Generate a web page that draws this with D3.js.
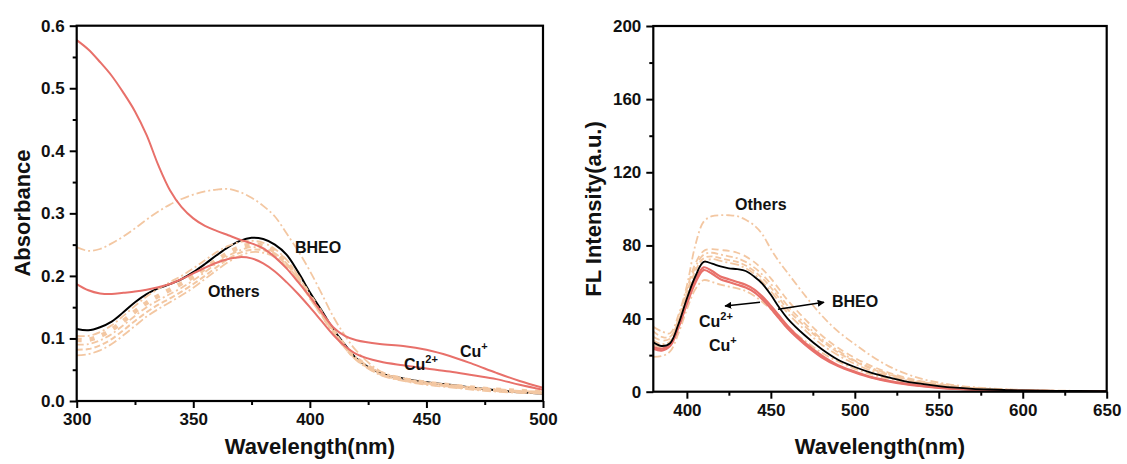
<!DOCTYPE html>
<html>
<head>
<meta charset="utf-8">
<script src="https://cdn.jsdelivr.net/npm/d3@7"></script>
<style>
  html, body { margin: 0; padding: 0; background: #fff; }
  svg { display: block; font-family: "Liberation Sans", Arial, sans-serif; }
  .tick text { font-weight: bold; font-size: 17px; fill: #111; }
  .title { font-weight: bold; font-size: 22px; fill: #111; }
  .note { font-weight: bold; font-size: 16px; fill: #111; }
</style>
</head>
<body>
<svg id="chart" width="1127" height="464"></svg>
<script>
// ---------- UV-vis absorbance (left panel) ----------
const absWavelength = [300,305,310,315,320,325,330,335,340,345,350,355,360,365,370,375,380,385,390,395,400,405,410,415,420,430,440,450,460,470,480,490,500];
const absBHEO = [0.115,0.113,0.118,0.127,0.142,0.158,0.171,0.180,0.187,0.195,0.206,0.219,0.233,0.246,0.256,0.261,0.259,0.250,0.234,0.206,0.174,0.145,0.115,0.090,0.068,0.045,0.036,0.030,0.026,0.021,0.017,0.014,0.012];
const absCuI = [0.577,0.562,0.542,0.520,0.493,0.463,0.425,0.377,0.337,0.310,0.292,0.280,0.272,0.265,0.258,0.252,0.244,0.230,0.212,0.190,0.167,0.142,0.118,0.104,0.097,0.091,0.088,0.082,0.072,0.059,0.045,0.032,0.021];
const absCuII = [0.187,0.177,0.172,0.171,0.173,0.175,0.178,0.182,0.187,0.195,0.204,0.213,0.221,0.227,0.230,0.228,0.220,0.207,0.190,0.171,0.150,0.128,0.106,0.088,0.075,0.063,0.057,0.052,0.047,0.041,0.035,0.026,0.018];
const absOthers = [
  [0.246,0.240,0.243,0.252,0.263,0.276,0.290,0.303,0.314,0.323,0.330,0.335,0.338,0.339,0.334,0.325,0.312,0.295,0.268,0.240,0.208,0.172,0.135,0.105,0.080,0.048,0.036,0.029,0.025,0.021,0.018,0.016,0.015],
  [0.104,0.104,0.110,0.121,0.136,0.152,0.167,0.179,0.190,0.200,0.212,0.225,0.238,0.248,0.254,0.256,0.253,0.243,0.226,0.200,0.170,0.141,0.113,0.089,0.069,0.046,0.036,0.030,0.026,0.022,0.019,0.016,0.014],
  [0.098,0.098,0.104,0.114,0.128,0.143,0.157,0.168,0.178,0.188,0.199,0.212,0.225,0.237,0.246,0.250,0.248,0.239,0.222,0.197,0.168,0.140,0.112,0.088,0.068,0.045,0.035,0.029,0.025,0.021,0.018,0.016,0.014],
  [0.090,0.091,0.097,0.107,0.121,0.136,0.150,0.161,0.171,0.181,0.193,0.206,0.220,0.232,0.241,0.246,0.244,0.236,0.220,0.196,0.167,0.139,0.111,0.087,0.067,0.044,0.034,0.028,0.024,0.020,0.017,0.015,0.013],
  [0.082,0.083,0.089,0.099,0.113,0.128,0.142,0.154,0.164,0.175,0.187,0.200,0.214,0.227,0.237,0.242,0.241,0.233,0.218,0.194,0.166,0.138,0.110,0.086,0.066,0.043,0.033,0.027,0.023,0.019,0.016,0.014,0.012],
  [0.073,0.075,0.081,0.091,0.105,0.120,0.135,0.147,0.158,0.169,0.181,0.195,0.209,0.222,0.232,0.238,0.237,0.230,0.215,0.192,0.164,0.137,0.109,0.085,0.065,0.042,0.032,0.026,0.022,0.018,0.015,0.013,0.012]
];
const absXTicks = [300,350,400,450,500];
const absYTicks = [0.0,0.1,0.2,0.3,0.4,0.5,0.6];

// ---------- Fluorescence emission (right panel) ----------
const flWavelength = [380,385,390,395,400,405,410,415,420,425,430,435,440,445,450,455,460,470,480,490,500,510,520,530,540,550,560,570,580,590,600,620,650];
const flBHEO = [27,25,26.5,37,51,63,71,70,68.5,67.5,67,66,63,59,53,46,40,31,23.5,17.5,13.5,10.3,7.8,5.7,4.3,3.1,2.2,1.6,1.2,0.9,0.7,0.5,0.3];
const flCuII = [24.5,23.5,26,36,49,61,68,66,63,61.5,60,58.5,56,52,47,41.5,36,27,20,14.5,11,8,6,4.4,3.2,2.3,1.6,1.1,0.8,0.6,0.4,0.3,0.2];
const flCuI = [23.5,22.5,25,35,48,59.5,66.5,64.5,61.5,60,58.5,57,54.5,50.5,45.5,40,34.5,26,19,14,10.5,7.6,5.6,4.1,3,2.1,1.5,1,0.7,0.5,0.4,0.3,0.2];
const flOthers = [
  [35.5,33,32,42,58,80,93,96,96.5,96.5,96,94,91,86,78,71,65,53,42,33,26,19.5,14,10,7,5,3.5,2.5,1.8,1.3,1,0.6,0.3],
  [30,28,29,40,56,70,77,78,77.5,77,76,74,71,67,62,56,50,40,31,24,18.5,14,10.5,7.8,5.7,4.2,3,2.2,1.6,1.2,0.9,0.5,0.3],
  [28,26,27.5,38,54,68,75,76,75,74,73,71,68,64,59,53,47,37.5,29,22.5,17,13,9.8,7.2,5.3,3.9,2.8,2,1.5,1.1,0.8,0.5,0.3],
  [33,30,30,39,53,66,73,74,73,72,71,69,66,62,57,51,45,36,28,21.5,16.5,12.5,9.4,6.9,5.1,3.7,2.7,1.9,1.4,1,0.8,0.5,0.3],
  [26,24,25.5,36,50,63,71,72.5,71.5,70.5,69.5,67.5,64.5,60,55,49,43,34,26,20,15.2,11.5,8.7,6.4,4.7,3.4,2.5,1.8,1.3,0.9,0.7,0.4,0.2],
  [19,19.5,22,32,45,56,61,60,58.5,57.5,56.5,55,52.5,49,45,40,35.5,28,21.5,16.5,12.5,9.5,7.2,5.3,3.9,2.8,2,1.5,1.1,0.8,0.6,0.4,0.2]
];
const flXTicks = [400,450,500,550,600,650];
const flYTicks = [0,40,80,120,160,200];

// ---------- styling ----------
const RED = "#E8706A";
const PEACH = "#F3C7A2";
const absDash = ["9,3,2,3", "8,3,2,3", "5,8", "7,3,2,3", "6,3", "9,3,2,3"];
const absWidth = [1.8, 1.8, 4.5, 1.8, 2, 1.8];
const flDash = ["8,3,2,3", "7,4", "7,3,2,3", "6,3", "9,3,2,3", "8,3,2,3"];

const svg = d3.select("#chart");
const defs = svg.append("defs");

function panel(opt) {
  const x = d3.scaleLinear().domain(opt.xDomain).range(opt.xRange);
  const y = d3.scaleLinear().domain(opt.yDomain).range(opt.yRange);
  const g = svg.append("g");
  const clipId = opt.id + "-clip";
  defs.append("clipPath").attr("id", clipId)
    .append("rect")
    .attr("x", opt.xRange[0]).attr("y", opt.yRange[1])
    .attr("width", opt.xRange[1] - opt.xRange[0])
    .attr("height", opt.yRange[0] - opt.yRange[1]);

  const plot = g.append("g").attr("clip-path", `url(#${clipId})`);
  const line = d3.line()
    .x(d => x(d[0])).y(d => y(d[1]))
    .curve(d3.curveCatmullRom.alpha(0.5));
  const pts = vals => opt.wl.map((w, i) => [w, vals[i]]);

  opt.layers.forEach(L => {
    plot.append("path")
      .attr("d", line(pts(L.values)))
      .attr("fill", "none")
      .attr("stroke", L.color)
      .attr("stroke-width", L.width)
      .attr("stroke-dasharray", L.dash || null)
      .attr("stroke-linejoin", "round");
  });

  // minor ticks
  const minorLen = 4;
  const xAxisMinor = d3.axisBottom(x).tickValues(opt.xMinor).tickSize(minorLen).tickFormat("");
  const yAxisMinor = d3.axisLeft(y).tickValues(opt.yMinor).tickSize(minorLen).tickFormat("");
  g.append("g").attr("transform", `translate(0,${opt.yRange[0]})`).call(xAxisMinor);
  g.append("g").attr("transform", `translate(${opt.xRange[0]},0)`).call(yAxisMinor);

  // major ticks
  const xAxis = d3.axisBottom(x).tickValues(opt.xTicks).tickSize(7).tickPadding(5).tickFormat(d3.format("d"));
  const yAxis = d3.axisLeft(y).tickValues(opt.yTicks).tickSize(7).tickPadding(5).tickFormat(opt.yFormat);
  g.append("g").attr("transform", `translate(0,${opt.yRange[0]})`).call(xAxis);
  g.append("g").attr("transform", `translate(${opt.xRange[0]},0)`).call(yAxis);

  g.selectAll(".domain").remove();
  g.selectAll(".tick line").attr("stroke", "#000").attr("stroke-width", 2);

  // frame
  g.append("rect")
    .attr("x", opt.xRange[0]).attr("y", opt.yRange[1])
    .attr("width", opt.xRange[1] - opt.xRange[0])
    .attr("height", opt.yRange[0] - opt.yRange[1])
    .attr("fill", "none").attr("stroke", "#000").attr("stroke-width", 2.2);

  // axis titles
  g.append("text").attr("class", "title")
    .attr("x", (opt.xRange[0] + opt.xRange[1]) / 2).attr("y", 454)
    .attr("text-anchor", "middle").text("Wavelength(nm)");
  g.append("text").attr("class", "title")
    .attr("transform", `translate(${opt.yTitleX},${opt.yTitleY}) rotate(-90)`)
    .attr("text-anchor", "middle").text(opt.yTitle);

  return { g, x, y };
}

const left = panel({
  id: "abs",
  wl: absWavelength,
  xDomain: [300, 500], xRange: [76.7, 543],
  yDomain: [0, 0.6], yRange: [401, 25.7],
  xTicks: absXTicks, xMinor: [325, 375, 425, 475],
  yTicks: absYTicks, yMinor: [0.05, 0.15, 0.25, 0.35, 0.45, 0.55],
  yFormat: d3.format(".1f"),
  yTitle: "Absorbance", yTitleX: 30, yTitleY: 213,
  layers: [
    { values: absBHEO, color: "#000", width: 2 },
    ...absOthers.map((v, i) => ({ values: v, color: PEACH, width: absWidth[i], dash: absDash[i] })),
    { values: absCuII, color: RED, width: 2 },
    { values: absCuI, color: RED, width: 2 }
  ]
});

const right = panel({
  id: "fl",
  wl: flWavelength,
  xDomain: [380, 650], xRange: [653.3, 1106.7],
  yDomain: [0, 200], yRange: [391.7, 26],
  xTicks: flXTicks, xMinor: [425, 475, 525, 575, 625],
  yTicks: flYTicks, yMinor: [20, 60, 100, 140, 180],
  yFormat: d3.format("d"),
  yTitle: "FL Intensity(a.u.)", yTitleX: 601, yTitleY: 209,
  layers: [
    ...flOthers.map((v, i) => ({ values: v, color: PEACH, width: 1.8, dash: flDash[i] })),
    { values: flCuI, color: RED, width: 2.2 },
    { values: flCuII, color: RED, width: 2.2 },
    { values: flBHEO, color: "#000", width: 1.8 }
  ]
});

// ---------- annotations ----------
function cuLabel(g, x, y, charge) {
  const t = g.append("text").attr("class", "note").attr("x", x).attr("y", y).style("font-size", "16px");
  t.append("tspan").text("Cu");
  t.append("tspan").attr("dy", -7).style("font-size", "11px").text(charge);
}

const lg = left.g;
lg.append("text").attr("class", "note").attr("x", 295).attr("y", 253).text("BHEO");
lg.append("text").attr("class", "note").attr("x", 208).attr("y", 297).text("Others");
cuLabel(lg, 460, 357, "+");
cuLabel(lg, 404, 370, "2+");

const rg = right.g;
rg.append("text").attr("class", "note").attr("x", 735).attr("y", 210).text("Others");
rg.append("text").attr("class", "note").attr("x", 832).attr("y", 307).text("BHEO");
cuLabel(rg, 699, 327, "2+");
cuLabel(rg, 709, 351, "+");

defs.append("marker").attr("id", "head")
  .attr("viewBox", "0 0 10 10").attr("refX", 9).attr("refY", 5)
  .attr("markerWidth", 7).attr("markerHeight", 7)
  .attr("markerUnits", "userSpaceOnUse")
  .attr("orient", "auto")
  .append("path").attr("d", "M0,0 L10,5 L0,10 z").attr("fill", "#000");

// arrows pointing from the curves to their labels
rg.append("line").attr("x1", 760).attr("y1", 302.3).attr("x2", 725).attr("y2", 306)
  .attr("stroke", "#000").attr("stroke-width", 1.4).attr("marker-end", "url(#head)");
rg.append("line").attr("x1", 778).attr("y1", 309.3).attr("x2", 824).attr("y2", 302.3)
  .attr("stroke", "#000").attr("stroke-width", 1.4).attr("marker-end", "url(#head)");
</script>
</body>
</html>
